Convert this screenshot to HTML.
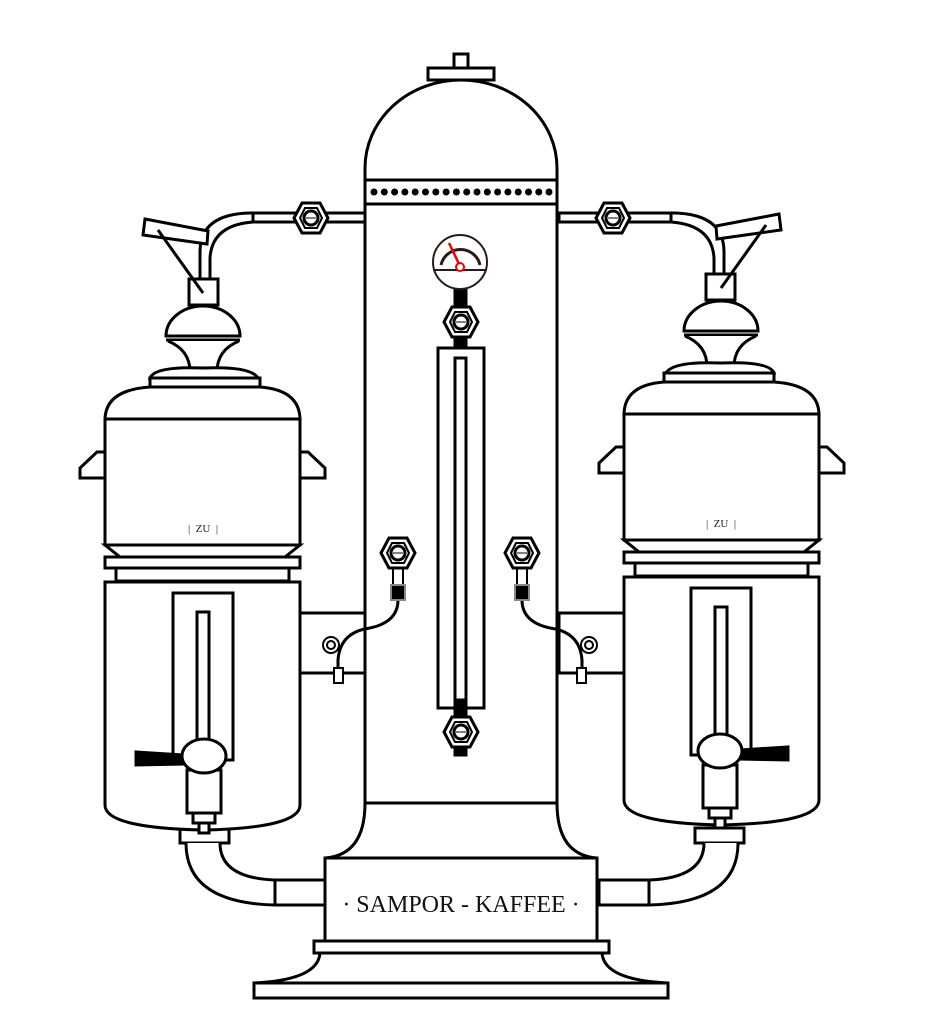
<!DOCTYPE html>
<html><head><meta charset="utf-8"><style>html,body{margin:0;padding:0;background:#fff}svg{display:block}</style></head>
<body>
<svg width="925" height="1024" viewBox="0 0 925 1024" xmlns="http://www.w3.org/2000/svg">
<defs>
<g id="nut">
<polygon points="-17,0 -9,-15 9,-15 17,0 9,15 -9,15" fill="#fff" stroke="#000" stroke-width="3"/>
<polygon points="-11,0 -6,-10 6,-10 11,0 6,10 -6,10" fill="#fff" stroke="#000" stroke-width="2"/>
<circle r="7" fill="#fff" stroke="#000" stroke-width="3"/>
<line x1="-5" y1="0" x2="5" y2="0" stroke="#000" stroke-width="1"/>
</g>
<g id="pot" fill="#fff" stroke="#000" stroke-width="3">
 <polygon points="145,219 208,231 207,244 143,235"/>
 <rect x="189" y="279" width="29" height="26"/>
 <line x1="158" y1="230" x2="203" y2="293"/>
 <path d="M166,336 A37,30 0 0 1 240,336 Z"/>
 <line x1="166" y1="340" x2="240" y2="340"/>
 <path d="M168,341 Q190,350 190,372 L217,372 Q217,350 239,341"/>
 <path d="M150,378 Q155,366 203,368 Q251,366 258,378 Z"/>
 <rect x="150" y="378" width="110" height="9"/>
 <path d="M105,420 Q105,390 150,387 L260,387 Q300,390 300,420 Z"/>
 <rect x="105" y="419" width="195" height="126"/>
 <polygon points="105,452 97,452 80,468 80,478 105,478"/>
 <polygon points="300,452 308,452 325,468 325,478 300,478"/>
 <polygon points="105,545 300,545 285,557 120,557"/>
 <rect x="105" y="557" width="195" height="11"/>
 <rect x="116" y="568" width="173" height="13"/>
 <path d="M105,582 L300,582 L300,805 Q300,828 203,830 Q105,828 105,805 Z"/>
 <rect x="173" y="593" width="60" height="167"/>
 <rect x="197" y="612" width="12" height="130"/>
 <polygon points="136,752 184,755 184,764 136,765" fill="#000"/>
 <rect x="187" y="770" width="34" height="43"/>
 <rect x="193" y="813" width="22" height="10"/>
 <rect x="199" y="823" width="10" height="10"/>
 <ellipse cx="204" cy="756" rx="22" ry="17"/>
</g>
<g id="side" fill="#fff" stroke="#000" stroke-width="3">
 <path d="M200,282 L200,252 Q200,214 250,213 L253,213 M210,282 L210,258 Q212,225 253,222"/>
 <rect x="253" y="213" width="112" height="9"/>
 <use href="#nut" x="311" y="218"/>
 <rect x="300" y="613" width="65" height="60"/>
 <rect x="180" y="828" width="49" height="15"/>
 <path d="M186,843 Q186,903 275,905 L325,905 L325,880 L275,880 Q220,878 220,843" />
 <line x1="275" y1="880" x2="275" y2="905"/>
</g>
<g id="valve" fill="#fff" stroke="#000" stroke-width="3">
 <use href="#nut" x="398" y="553"/>
 <line x1="393" y1="568" x2="393" y2="585" stroke-width="2"/><line x1="403" y1="568" x2="403" y2="585" stroke-width="2"/>
 <path d="M398,600 Q398,622 370,628 Q340,632 338,660 L338,670" fill="none"/>
 <rect x="391" y="585" width="14" height="15" fill="#000" stroke="#888" stroke-width="2"/>
 <circle cx="331" cy="645" r="8" stroke-width="2"/><circle cx="331" cy="645" r="4" stroke-width="2"/>
 <rect x="334" y="668" width="9" height="15" stroke-width="2"/>
</g>
</defs>

<use href="#side"/>
<use href="#side" transform="translate(924,0) scale(-1,1)"/>
<use href="#pot"/>
<g transform="translate(924,-5) scale(-1,1)"><use href="#pot"/></g>
<text x="203" y="532" font-family="Liberation Serif, serif" font-size="11" text-anchor="middle" fill="#222">|&#160;&#160;ZU&#160;&#160;|</text>
<text x="721" y="527" font-family="Liberation Serif, serif" font-size="11" text-anchor="middle" fill="#222">|&#160;&#160;ZU&#160;&#160;|</text>

<g fill="#fff" stroke="#000" stroke-width="3">
 <rect x="454" y="54" width="14" height="14"/>
 <rect x="428" y="68" width="66" height="12"/>
 <path d="M365,180 L365,168 A96,88 0 0 1 557,168 L557,180 Z"/>
 <rect x="365" y="180" width="192" height="24"/>
 <rect x="365" y="204" width="192" height="599"/>
 <path d="M365,803 Q365,855 325,858 L597,858 Q557,855 557,803 Z"/>
 <rect x="325" y="858" width="272" height="83"/>
 <rect x="314" y="941" width="295" height="12"/>
 <path d="M320,953 Q318,980 254,983 L668,983 Q604,980 602,953 Z"/>
 <rect x="254" y="983" width="414" height="15"/>
 <rect x="455" y="288" width="11" height="62" fill="#000"/>
 <rect x="438" y="348" width="46" height="360"/>
 <rect x="455" y="358" width="11" height="348"/>
 <rect x="455" y="700" width="11" height="55" fill="#000"/>
 <use href="#nut" x="461" y="322"/>
 <use href="#nut" x="461" y="732"/>
 <circle cx="460" cy="262" r="27" stroke="#2a1a1a" stroke-width="2"/>
 <path d="M441,265 A20,20 0 0 1 480,265" fill="none" stroke="#2a1a1a" stroke-width="3"/>
 <line x1="433" y1="270" x2="487" y2="270" stroke="#2a1a1a" stroke-width="2"/>
 <line x1="449" y1="243" x2="459" y2="264" stroke="#e00" stroke-width="2.5"/>
 <circle cx="460" cy="267" r="4" stroke="#e00" stroke-width="2"/>
</g>
<use href="#valve"/>
<use href="#valve" transform="translate(920,0) scale(-1,1)"/>
<g fill="#000">
 <circle cx="374" cy="192" r="3.5"/><circle cx="384.3" cy="192" r="3.5"/><circle cx="394.6" cy="192" r="3.5"/><circle cx="404.9" cy="192" r="3.5"/><circle cx="415.2" cy="192" r="3.5"/><circle cx="425.5" cy="192" r="3.5"/><circle cx="435.8" cy="192" r="3.5"/><circle cx="446.1" cy="192" r="3.5"/><circle cx="456.4" cy="192" r="3.5"/><circle cx="466.7" cy="192" r="3.5"/><circle cx="477" cy="192" r="3.5"/><circle cx="487.3" cy="192" r="3.5"/><circle cx="497.6" cy="192" r="3.5"/><circle cx="507.9" cy="192" r="3.5"/><circle cx="518.2" cy="192" r="3.5"/><circle cx="528.5" cy="192" r="3.5"/><circle cx="538.8" cy="192" r="3.5"/><circle cx="549" cy="192" r="3.5"/>
</g>
<text x="461" y="912" font-family="Liberation Serif, serif" font-size="24" text-anchor="middle" fill="#111">· SAMPOR - KAFFEE ·</text>
</svg>
</body></html>
